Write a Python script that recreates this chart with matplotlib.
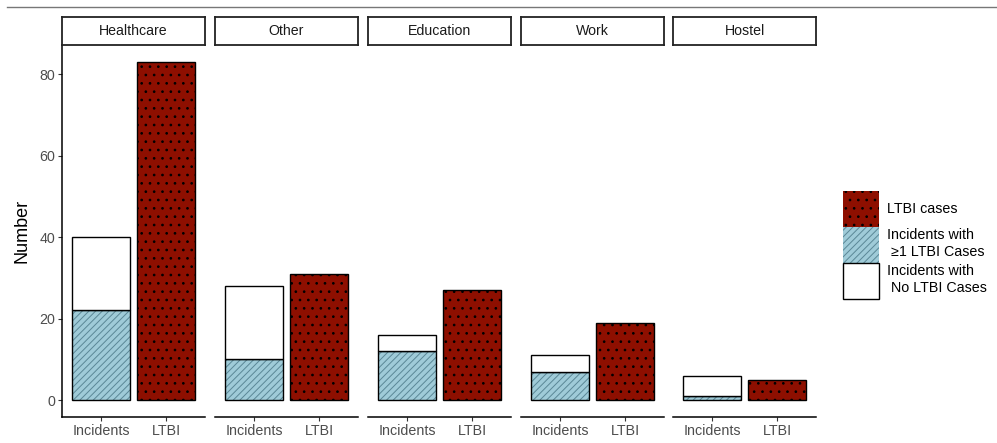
import numpy as np
import matplotlib
matplotlib.use('Agg')
import matplotlib.pyplot as plt
from matplotlib.patches import Patch
from matplotlib.lines import Line2D

plt.rcParams['font.family'] = ['Liberation Sans', 'DejaVu Sans']
plt.rcParams['hatch.linewidth'] = 0.7

# data
settings = ['Healthcare', 'Other', 'Education', 'Work', 'Hostel']
categories = ['Incidents', 'LTBI']
incidents_total = [40, 28, 16, 11, 6]
incidents_with_ltbi = [22, 10, 12, 7, 1]
ltbi_cases = [83, 31, 27, 19, 5]
y_ticks = [0, 20, 40, 60, 80]

red = '#8E0F00'
blue = '#9FCBD8'
grey_txt = '#4D4D4D'

W, H = 997, 443
fig = plt.figure(figsize=(W/100, H/100), dpi=100)

# frame line at the top of the screenshot
fig.add_artist(Line2D([7/W, 1], [1-7/H, 1-7/H], color='#777777', lw=1))

panel_left = [62, 215, 368, 521, 673]
panel_w = 143
top, bottom = 45, 417
strip_top = 17

ymax = max(ltbi_cases)
ylim = (-0.05*ymax, 1.05*ymax)

for i, name in enumerate(settings):
    x0 = panel_left[i]
    ax = fig.add_axes([x0/W, 1-bottom/H, panel_w/W, (bottom-top)/H])
    xs = np.arange(len(categories))
    # incidents with >=1 LTBI (blue hatch)
    ax.bar(xs[0], incidents_with_ltbi[i], width=0.9, color=blue,
           edgecolor='#5A8796', hatch='/////', lw=0)
    ax.bar(xs[0], incidents_with_ltbi[i], width=0.9, fill=False,
           edgecolor='black', lw=1)
    # incidents with no LTBI (white)
    ax.bar(xs[0], incidents_total[i]-incidents_with_ltbi[i], width=0.9,
           bottom=incidents_with_ltbi[i], color='white', edgecolor='black', lw=1)
    # LTBI cases (red, dotted)
    ax.bar(xs[1], ltbi_cases[i], width=0.9, color=red,
           edgecolor='black', hatch='..', lw=1)
    ax.set_xlim(-0.6, 1.6)
    ax.set_ylim(*ylim)
    ax.set_xticks(xs)
    ax.set_xticklabels(categories, fontsize=10.3, color=grey_txt)
    ax.tick_params(axis='both', length=3, width=0.8, color='#333333', pad=2)
    for s in ['top', 'right']:
        ax.spines[s].set_visible(False)
    ax.spines['bottom'].set_linewidth(1.1)
    if i == 0:
        ax.set_yticks(y_ticks)
        ax.set_yticklabels([str(v) for v in y_ticks], fontsize=10.3, color=grey_txt)
        ax.spines['left'].set_linewidth(1.1)
        ax.set_ylabel('Number', fontsize=13, labelpad=6)
    else:
        ax.spines['left'].set_visible(False)
        ax.set_yticks([])

    # facet strip
    sax = fig.add_axes([x0/W, 1-top/H, panel_w/W, (top-strip_top)/H])
    sax.set_xticks([])
    sax.set_yticks([])
    for s in sax.spines.values():
        s.set_linewidth(1.3)
        s.set_color('#222222')
    sax.text(0.5, 0.5, name, ha='center', va='center', fontsize=10.2,
             color='#1A1A1A', transform=sax.transAxes)

handles = [
    Patch(facecolor=red, edgecolor='black', hatch='..', lw=0),
    Patch(facecolor=blue, edgecolor='#5A8796', hatch='/////', lw=0),
    Patch(facecolor='white', edgecolor='black', lw=1),
]
labels = ['LTBI cases', 'Incidents with\n \u22651 LTBI Cases', 'Incidents with\n No LTBI Cases']
fs = 10.3
key_px = 36
fig.legend(handles, labels, loc='upper left', bbox_to_anchor=(843/W, 1-191/H),
           frameon=False, fontsize=fs, borderpad=0, borderaxespad=0,
           handlelength=key_px/fs*0.72, handleheight=key_px/fs,
           labelspacing=0, handletextpad=0.55)

fig.savefig('out.png', dpi=100)
